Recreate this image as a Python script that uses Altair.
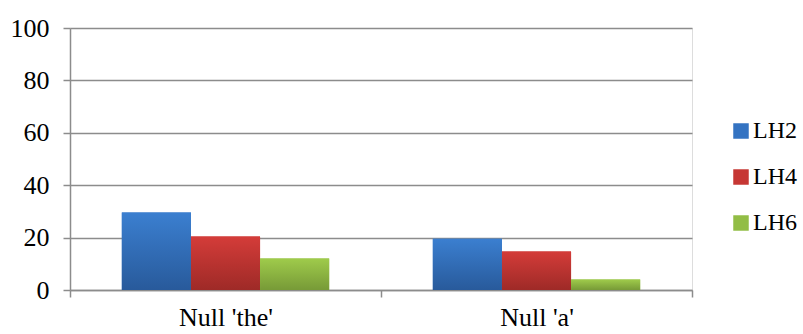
import altair as alt
import pandas as pd

# Chart data
categories = ["Null 'the'", "Null 'a'"]
series = ["LH2", "LH4", "LH6"]
lh2 = [29.6, 19.6]
lh4 = [20.4, 14.7]
lh6 = [12.0, 4.0]
y_ticks = [0, 20, 40, 60, 80, 100]

# Series colours: flat legend colour plus top/bottom of the bar shading
legend_colors = ["#3473c2", "#c63734", "#92bd45"]
top_colors = ["#3b7fd0", "#d43c39", "#9fcb4b"]
bottom_colors = ["#285a9b", "#9e2a27", "#779a37"]

rows = []
for s, vals in zip(series, [lh2, lh4, lh6]):
    for c, v in zip(categories, vals):
        rows.append({"group": c, "series": s, "value": v})
df = pd.DataFrame(rows)

FONT = "Liberation Serif"
GRID = "#8c8c8c"

x_enc = alt.X(
    "group:N",
    sort=categories,
    scale=alt.Scale(paddingInner=0, paddingOuter=0),
    axis=alt.Axis(
        title=None,
        labelAngle=0,
        tickBand="extent",
        tickSize=7,
        tickWidth=1.5,
        tickColor=GRID,
        domainColor=GRID,
        domainWidth=1.5,
        labelPadding=7,
        labelFont=FONT,
        labelFontSize=26,
        labelColor="black",
        grid=False,
    ),
)
y_enc = alt.Y(
    "value:Q",
    scale=alt.Scale(domain=[0, 100], nice=False),
    axis=alt.Axis(
        title=None,
        values=y_ticks,
        tickSize=7,
        tickWidth=1.5,
        tickColor=GRID,
        domainColor=GRID,
        domainWidth=1.5,
        gridColor=GRID,
        gridWidth=1.5,
        labelPadding=14,
        labelFont=FONT,
        labelFontSize=26,
        labelColor="black",
    ),
)
# Each group of three bars sits in the middle two thirds of its category band
xoff = alt.XOffset(
    "series:N",
    scale=alt.Scale(domain=series, paddingInner=0, paddingOuter=0.75),
)

base = alt.Chart(df).mark_bar().encode(
    x=x_enc,
    y=y_enc,
    xOffset=xoff,
    color=alt.Color(
        "series:N",
        scale=alt.Scale(domain=series, range=legend_colors),
        legend=alt.Legend(
            title=None,
            orient="none",
            legendX=659,
            legendY=91,
            symbolType="square",
            symbolSize=240,
            symbolStrokeWidth=0,
            labelFont=FONT,
            labelFontSize=24,
            labelColor="black",
            labelOffset=0,
            rowPadding=22,
        ),
    ),
)

# Shaded bars drawn over the flat ones, one layer per series
shaded = []
for s, top, bottom in zip(series, top_colors, bottom_colors):
    shaded.append(
        alt.Chart(df)
        .transform_filter(alt.datum.series == s)
        .mark_bar(
            fill=alt.Gradient(
                gradient="linear",
                x1=0, x2=0, y1=0, y2=1,
                stops=[
                    alt.GradientStop(color=top, offset=0),
                    alt.GradientStop(color=bottom, offset=1),
                ],
            )
        )
        .encode(x=x_enc, y=y_enc, xOffset=xoff)
    )

chart = (
    alt.layer(base, *shaded)
    .properties(
        width=622,
        height=262,
        autosize=alt.AutoSizeParams(type="none"),
        padding={"left": 70, "top": 28, "right": 111, "bottom": 44},
    )
    .configure_view(stroke=None)
    .configure(background="white")
)

chart.save("out.html", embed_options={"renderer": "svg", "actions": False})
